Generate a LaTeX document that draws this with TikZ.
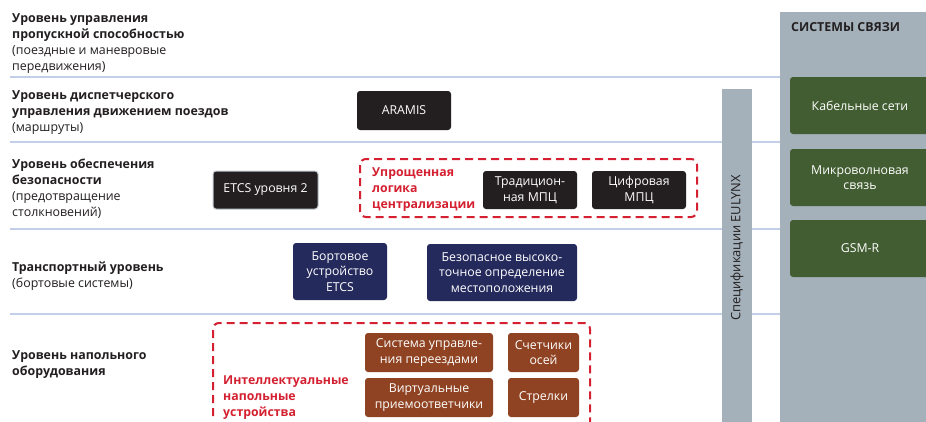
\documentclass[tikz,border=0pt]{standalone}
\usepackage{fontspec}
\setmainfont{Open Sans}
\definecolor{linecol}{HTML}{C3CFE8}
\definecolor{panel}{HTML}{A4B1BA}
\definecolor{grn}{HTML}{415D31}
\definecolor{navy}{HTML}{252A5D}
\definecolor{brn}{HTML}{8F4322}
\definecolor{blk}{HTML}{231F20}
\definecolor{redc}{HTML}{D42030}
\definecolor{txt}{HTML}{231F20}
\begin{document}
\begin{tikzpicture}[x=1pt,y=-1pt,
  lvl/.style={anchor=north west,inner sep=0pt,align=left,text=txt,font=\fontsize{12.4}{16}\selectfont},
  box/.style={rounded corners=3pt,text=white,align=center,inner sep=0pt,font=\fontsize{12.3}{15.5}\selectfont},
  blackbox/.style={box,fill=blk},
  navybox/.style={box,fill=navy},
  brownbox/.style={box,fill=brn},
  greenbox/.style={box,fill=grn},
  redtxt/.style={anchor=north west,inner sep=0pt,align=left,text=redc,font=\bfseries\fontsize{12.3}{16}\selectfont},
  dashbox/.style={draw=redc,line width=2pt,dash pattern=on 8pt off 5pt,rounded corners=6pt},
  sepline/.style={draw=linecol,line width=1.2pt}]
\useasboundingbox (0,0) rectangle (926,421);
\fill[white] (0,0) rectangle (926,421);
\clip (0,0) rectangle (926,421);
% separator lines
\coordinate (l1a) at (10,77); \coordinate (l1b) at (780,77);
\coordinate (l2a) at (10,142); \coordinate (l2b) at (780,142);
\coordinate (l3a) at (10,229); \coordinate (l3b) at (780,229);
\coordinate (l4a) at (10,314); \coordinate (l4b) at (780,314);
\draw[sepline] (l1a) -- (l1b);
\draw[sepline] (l2a) -- (l2b);
\draw[sepline] (l3a) -- (l3b);
\draw[sepline] (l4a) -- (l4b);
% right panel
\fill[panel] (780,12) rectangle (930,425);
\node[anchor=west,inner sep=0pt,text=txt,font=\bfseries\fontsize{12.4}{14}\selectfont] (sys) at (791,27) {СИСТЕМЫ СВЯЗИ};
\node[greenbox,minimum width=140pt,minimum height=57pt] (cab) at (860,105.5) {Кабельные сети};
\node[greenbox,minimum width=140pt,minimum height=57pt] (mic) at (860,177.5) {Микроволновая\\связь};
\node[greenbox,minimum width=140pt,minimum height=57pt] (gsm) at (860,248.5) {GSM-R};
% EULYNX bar
\fill[panel] (722,89) rectangle (752,425);
\node[rotate=90,inner sep=0pt,text=txt,font=\fontsize{12.9}{14}\selectfont] (eul) at (737,248) {Спецификации EULYNX};
% level labels
\node[lvl] (t1) at (12,13.5) {\textbf{Уровень управления}\\\textbf{пропускной способностью}\\(поездные и маневровые\\передвижения)};
\node[lvl] (t2) at (12,90.5) {\textbf{Уровень диспетчерского}\\\textbf{управления движением поездов}\\(маршруты)};
\node[lvl] (t3) at (12,158.5) {\textbf{Уровень обеспечения}\\\textbf{безопасности}\\(предотвращение\\столкновений)};
\node[lvl] (t4) at (12,261.5) {\textbf{Транспортный уровень}\\(бортовые системы)};
\node[lvl] (t5) at (12,350.5) {\textbf{Уровень напольного}\\\textbf{оборудования}};
% level 2
\node[blackbox,minimum width=94pt,minimum height=39pt] (aramis) at (404,110.5) {ARAMIS};
% level 3
\node[blackbox,draw=panel!70!white,line width=1pt,minimum width=105pt,minimum height=38pt] (etcs2) at (265.5,190) {ETCS уровня 2};
\draw[dashbox] (360,159) rectangle (697,217);
\node[redtxt] (upr) at (372,167.5) {Упрощенная\\логика\\централизации};
\node[blackbox,minimum width=94pt,minimum height=38pt] (trad) at (530,190) {Традицион-\\ная МПЦ};
\node[blackbox,minimum width=94pt,minimum height=38pt] (cifr) at (639,190) {Цифровая\\МПЦ};
% level 4
\node[navybox,minimum width=94pt,minimum height=57pt] (bort) at (340,271.5) {Бортовое\\устройство\\ETCS};
\node[navybox,minimum width=150pt,minimum height=57pt] (bez) at (502,272.5) {Безопасное высоко-\\точное определение\\местоположения};
% level 5
\draw[dashbox] (213,416) -- (213,323) -- (590,323) -- (590,430);
\node[redtxt] (intel) at (223,375.5) {Интеллектуальные\\напольные\\устройства};
\node[brownbox,minimum width=128pt,minimum height=39pt] (pere) at (429,352.5) {Система управле-\\ния переездами};
\node[brownbox,minimum width=128pt,minimum height=39pt] (virt) at (429,397.5) {Виртуальные\\приемоответчики};
\node[brownbox,minimum width=71pt,minimum height=39pt] (osi) at (543.5,352.5) {Счетчики\\осей};
\node[brownbox,minimum width=71pt,minimum height=39pt] (strel) at (543.5,397.5) {Стрелки};
\end{tikzpicture}
\end{document}
